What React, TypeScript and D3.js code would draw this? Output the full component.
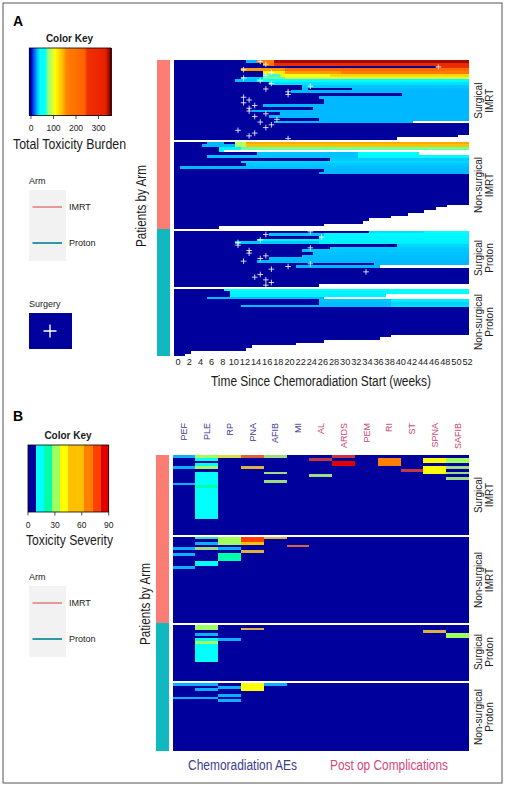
import React from "react";
import * as d3 from "d3";

const SANS = "'Liberation Sans',Arial,sans-serif";

const weekTicks = [0,2,4,6,8,10,12,14,16,18,20,22,24,26,28,30,32,34,36,38,40,42,44,46,48,50,52];
const keyATicks = [0,100,200,300];
const keyBTicks = [0,30,60,90];
const aeNames = ["PEF","PLE","RP","PNA","AFIB","MI","AL","ARDS","PEM","RI","ST","SPNA","SAFIB"];
const aeKinds = ["c","c","c","c","c","c","p","p","p","p","p","p","p"];
const groupLabels = [["Surgical","IMRT"],["Non-surgical","IMRT"],["Surgical","Proton"],["Non-surgical","Proton"]];
const groupRowCounts = [29,32,21,25];
const END = -1;

// Panel A rows: week, value, week, value... END means the patient's record stops.
const surgicalImrtRows: number[][] = [
  [0,0,13,26,15,175,18,345],
  [0,0,16,190,18,285],
  [0,0,47,262],
  [0,0,12,150,20,215],
  [0,0,16,115,20,150,30,175],
  [0,0,16,68,19,105,28,125],
  [0,0,12,30,16,72,20,96],
  [0,0,11,27,15,55],
  [0,0,17,34],
  [0,0,23,29],
  [0,0,23,27,24,0,32,27],
  [0,0,21,26],
  [0,0,41,26],
  [0,0,26,26],
  [0,0,27,26],
  [0,0,27,26],
  [0,0,16,26],
  [0,0,25,26],
  [0,0,14,26],
  [0,0,19,26],
  [0,0,17,26],
  [0,0,26,26],
  [0,0,18,26,43,END],
  [0,0],
  [0,0],
  [0,0],
  [0,0],
  [0,0,51,END],
  [0,0,40,END],
];
const nonSurgicalImrtRows: number[][] = [
  [0,0,6,26,9,0,11,85,13,145],
  [0,0,5,26,11,85,13,135],
  [0,0,8,38,12,72],
  [0,0,8,40,9,END],
  [0,0,15,28,33,42,44,END],
  [0,0,6,28,33,39],
  [0,0,28,30],
  [0,0,12,32],
  [0,0,13,29],
  [0,0,1,27],
  [0,0,27,26],
  [0,0,26,26],
  [0,0],[0,0],[0,0],[0,0],[0,0],[0,0],[0,0],[0,0],[0,0],[0,0],
  [0,0],
  [0,0,49,END],
  [0,0,47,END],
  [0,0,45,END],
  [0,0,42,END],
  [0,0,39,END],
  [0,0,35,END],
  [0,0,34,END],
  [0,0,27,END],
  [0,0,8,END],
];
const surgicalProtonRows: number[][] = [
  [0,0,35,34,45,42],
  [0,0,17,28,27,39],
  [0,0,26,38],
  [0,0,15,38],
  [0,0,11,29,26,37],
  [0,0,40,32],
  [0,0,28,30],
  [0,0,23,29],
  [0,0,25,28],
  [0,0,23,27],
  [0,0,17,27],
  [0,0,15,26],
  [0,0,36,26],
  [0,0,22,26,37,END],
  [0,0],[0,0],[0,0],[0,0],[0,0],[0,0],
  [0,0,26,END],
];
const nonSurgicalProtonRows: number[][] = [
  [0,0,9,42,38,55],
  [0,0,10,38,38,44],
  [0,0,10,37,38,END],
  [0,0,6,27,27,END],
  [0,0,26,29,39,37],
  [0,0,26,27,39,32],
  [0,0,12,27,39,34],
  [0,0],[0,0],[0,0],[0,0],[0,0],[0,0],[0,0],[0,0],[0,0],[0,0],
  [0,0,39,END],
  [0,0,37,END],
  [0,0,27,END],
  [0,0,22,END],
  [0,0,14,END],
  [0,0,13,END],
  [0,0,3,END],
  [0,0,2,END],
];
const timelineRows = [surgicalImrtRows, nonSurgicalImrtRows, surgicalProtonRows, nonSurgicalProtonRows];

// Week of surgery per row, surgical groups only
const surgeryWeeksImrt = [15,16,47,12,17,16,12,15,17,24,16,20,20,12,13,12,14,13,13,16,14,18,15,17,16,11,14,13,20];
const surgeryWeeksProton = [24,16,26,15,11,11,24,13,13,16,15,12,24,20,17,34,15,14,16,17,16];

// Panel B cells: row, AE column, severity
const aeSurgicalImrt: number[][] = [
  [0,0,14],[0,1,32],[0,2,42],[0,3,78],[0,4,32],[0,7,85],
  [1,1,15],[1,6,85],[1,9,66],[1,11,42],[1,12,35],
  [2,7,85],[2,9,66],[2,11,42],[2,12,35],
  [3,1,15],[3,7,85],[3,9,66],
  [4,0,14],[4,1,30],[4,3,48],[4,11,42],[4,12,30],
  [5,10,85],[5,11,42],
  [6,1,15],[6,4,32],[6,11,42],[6,12,30],
  [7,1,15],[7,6,32],
  [8,1,15],[8,12,30],
  [9,1,15],[9,4,32],
  [10,0,14],[10,1,15],
  [11,1,22],
  [12,1,15],[13,1,15],[14,1,15],[15,1,15],[16,1,15],[17,1,15],[18,1,15],[19,1,15],[20,1,15],[21,1,15],[22,1,15],
];
const aeNonSurgicalImrt: number[][] = [
  [0,1,20],[0,2,34],[0,3,78],[0,4,46],
  [1,2,34],[1,3,78],
  [2,1,15],[2,2,34],[2,3,46],
  [3,5,72],
  [4,0,14],[4,1,32],[4,2,14],
  [5,3,46],
  [6,0,14],[6,2,22],
  [7,2,22],
  [8,2,22],
  [9,1,15],
  [10,1,15],
  [11,0,14],
];
const aeSurgicalProton: number[][] = [
  [0,1,30],[1,1,30],[1,3,46],
  [2,11,46],
  [3,1,15],[3,12,35],
  [4,12,35],
  [5,1,15],[5,2,15],
  [6,1,30],
  [7,1,15],[8,1,15],[9,1,15],[10,1,15],[11,1,15],[12,1,15],[13,1,15],
];
const aeNonSurgicalProton: number[][] = [
  [0,0,14],[0,1,14],[0,3,42],[0,4,14],
  [1,2,14],[1,3,42],
  [2,1,15],[2,3,42],
  [4,2,14],
  [5,0,14],[5,1,14],
  [6,2,14],
];
const aeCells = [aeSurgicalImrt, aeNonSurgicalImrt, aeSurgicalProton, aeNonSurgicalProton];

const burdenStops = [0,12,26,40,62,75,95,107,137,159,240,248,330,355];
const burdenColors = ["#00009c","#0050ff","#00b8ff","#00ffff","#00ffff","#90ff80","#d8ff40","#ffff00","#ffc000","#ff8000","#ff6000","#f03000","#e82000","#700000"];
const severityBins = ["#00009c","#00ffff","#00ffa8","#a0ff60","#ffff00","#ffc000","#ffc000","#ff8000","#ff4000","#e00000"];

const burden = d3.scaleLinear<string>().domain(burdenStops).range(burdenColors).clamp(true);
const severity = d3.scaleQuantize<string>().domain([0,90]).range(severityBins);

const SALMON = "#fc7d74", TEAL = "#0fb9bf", NAVY = "#00009c";
const INK = "#1a1a1a";

const yA = [[60,140],[141.5,229],[230.5,286.5],[288.5,356]];
const yB = [[455,535],[536.5,623],[625,681],[683,751]];
const bands = (ranges: number[][]) => groupRowCounts.map((n,i) =>
  d3.scaleBand<number>().domain(d3.range(n)).range(ranges[i] as [number,number]));
const bandsA = bands(yA), bandsB = bands(yB);

const x = d3.scaleLinear().domain([0,53]).range([174,469]);
const colX = d3.scaleBand<number>().domain(d3.range(aeNames.length)).range([172.7,469]);
const keyAx = d3.scaleLinear().domain([0,300]).range([31,98.5]);
const keyBx = d3.scaleLinear().domain([0,90]).range([28,108.7]);

// A one-row stripe in the reference looks washed out by its neighbours.
function cellColor(cells:number[][], row:number, col:number, val:number) {
  const c = severity(val);
  const touching = cells.some(([r,k])=>k===col && Math.abs(r-row)===1);
  if (touching) return c;
  return c==="#00ffff" ? d3.interpolateRgb(c,"#1060ff")(0.5) : d3.interpolateRgb(c,"#9a9ac0")(0.35);
}

function NarrowText(p:{x:number,y:number,len:number,fill?:string,rotate?:boolean,text:string}) {
  return <text transform={`translate(${p.x},${p.y})${p.rotate?" rotate(-90)":""}`} textAnchor="start" fontFamily={SANS} fontSize={14}
    fill={p.fill||INK} textLength={p.len} lengthAdjust="spacingAndGlyphs">{p.text}</text>;
}

function Legend({y}:{y:number}) {
  return <g fontFamily={SANS} fontSize={9} fill={INK}>
    <text x={29} y={y}>Arm</text>
    <rect x={29} y={y+6} width={37} height={71} fill="#f2f2f2"/>
    <line x1={32.5} x2={62} y1={y+23} y2={y+23} stroke="#e59a9a" strokeWidth={2}/>
    <line x1={32.5} x2={62} y1={y+59} y2={y+59} stroke="#2f97a6" strokeWidth={2}/>
    <text x={69} y={y+26}>IMRT</text>
    <text x={69} y={y+62}>Proton</text>
  </g>;
}

function GroupLabels({centers}:{centers:number[]}) {
  return <g fontFamily={SANS} fontSize={10} fill={INK} textAnchor="middle">
    {groupLabels.map((l,i)=>l.map((t,j)=>
      <text key={i+"-"+j} transform={`translate(${482+j*10.5},${centers[i]}) rotate(-90)`}>{t}</text>))}
  </g>;
}

function ArmBar({x0,ys}:{x0:number,ys:[number,number,number]}) {
  return <g>
    <rect x={x0} y={ys[0]} width={13} height={ys[1]-ys[0]} fill={SALMON}/>
    <rect x={x0} y={ys[1]} width={13} height={ys[2]-ys[1]} fill={TEAL}/>
  </g>;
}

function Plus({cx,cy,r,w=1,o=0.9}:{cx:number,cy:number,r:number,w?:number,o?:number}) {
  return <path d={`M${cx-r},${cy}H${cx+r}M${cx},${cy-r}V${cy+r}`} stroke="#fff" strokeWidth={w} opacity={o} fill="none"/>;
}

export default function App() {
  const keyASteps = d3.range(-8,355.5,1);
  const plusSets: [number[],number][] = [[surgeryWeeksImrt,0],[surgeryWeeksProton,2]];
  return (
    <svg width={508} height={789} style={{position:"fixed",left:0,top:0,background:"#fff"}}>
      <defs>
        <filter id="soft" x="-2%" y="-2%" width="104%" height="104%">
          <feGaussianBlur stdDeviation="0.45"/>
        </filter>
      </defs>
      <rect x={3} y={3} width={499} height={780} fill="#fff" stroke="#555" strokeWidth={1}/>

      {/* Panel A */}
      <text x={13} y={26} fontFamily={SANS} fontWeight="bold" fontSize={14} fill="#000">A</text>
      <text x={69.5} y={42} textAnchor="middle" fontFamily={SANS} fontWeight="bold" fontSize={10} fill={INK}>Color Key</text>
      <g shapeRendering="crispEdges">
        {keyASteps.map(v=><rect key={v} x={keyAx(v)} y={48} width={1} height={67.5} fill={burden(Math.max(v,0))}/>)}
      </g>
      <rect x={29.3} y={48} width={81.4} height={67.5} fill="none" stroke="#000" strokeWidth={0.8}/>
      {keyATicks.map(t=><g key={t}>
        <line x1={keyAx(t)} x2={keyAx(t)} y1={115.5} y2={119} stroke="#222" strokeWidth={0.8}/>
        <text x={keyAx(t)} y={131} textAnchor="middle" fontFamily={SANS} fontSize={8.5} fill={INK}>{t}</text>
      </g>)}
      <NarrowText x={13} y={149} len={113} text="Total Toxicity Burden"/>
      <Legend y={184}/>
      <text x={29} y={307} fontFamily={SANS} fontSize={9} fill={INK}>Surgery</text>
      <rect x={29} y={313} width={43} height={36} fill={NAVY}/>
      <Plus cx={50} cy={331} r={6.5} w={1.4} o={1}/>
      <NarrowText x={145.5} y={247} len={82} rotate text="Patients by Arm"/>
      <ArmBar x0={157} ys={[60,229,356]}/>

      <g filter="url(#soft)" shapeRendering="crispEdges">
        {timelineRows.map((rows,g)=>rows.map((r,i)=>{
          const segs:React.ReactNode[] = [];
          for (let k=0;k<r.length;k+=2) {
            const v = r[k+1];
            if (v===END) break;
            const next = k+2<r.length ? r[k+2] : 53;
            segs.push(<rect key={k} x={x(r[k])} y={bandsA[g](i)} width={x(next)-x(r[k])} height={bandsA[g].bandwidth()+0.2} fill={burden(v)}/>);
          }
          return <g key={g+"-"+i}>{segs}</g>;
        }))}
      </g>
      {plusSets.map(([weeks,g])=>weeks.map((w,i)=>
        <Plus key={g+"p"+i} cx={x(w+0.5)} cy={bandsA[g](i)!+bandsA[g].bandwidth()/2} r={2.8} w={0.9}/>))}
      {weekTicks.map(w=><text key={w} x={x(w+0.5)+1.4} y={365} textAnchor="middle" fontFamily={SANS} fontSize={9.2} fill={INK}>{w}</text>)}
      <NarrowText x={211} y={386} len={220} text="Time Since Chemoradiation Start (weeks)"/>
      <GroupLabels centers={[100.7,185,258,322]}/>

      {/* Panel B */}
      <text x={13} y={421} fontFamily={SANS} fontWeight="bold" fontSize={14} fill="#000">B</text>
      <text x={68} y={439} textAnchor="middle" fontFamily={SANS} fontWeight="bold" fontSize={10} fill={INK}>Color Key</text>
      <g shapeRendering="crispEdges">
        {severityBins.map((c,i)=><rect key={i} x={keyBx(i*9)} y={445} width={keyBx(9)-keyBx(0)+0.5} height={67} fill={c}/>)}
      </g>
      <rect x={28} y={445} width={80.7} height={67} fill="none" stroke="#000" strokeWidth={0.8}/>
      {keyBTicks.map(t=><g key={t}>
        <line x1={keyBx(t)} x2={keyBx(t)} y1={512} y2={515.5} stroke="#222" strokeWidth={0.8}/>
        <text x={keyBx(t)} y={528} textAnchor="middle" fontFamily={SANS} fontSize={8.5} fill={INK}>{t}</text>
      </g>)}
      <NarrowText x={26} y={545} len={87} text="Toxicity Severity"/>
      <Legend y={580}/>
      <NarrowText x={150} y={645} len={82} rotate text="Patients by Arm"/>
      <ArmBar x0={156} ys={[455,623,751]}/>

      {aeNames.map((n,i)=><text key={n} transform={`translate(${colX(i)!+colX.bandwidth()/2+3.2},423) rotate(-90)`} textAnchor="end"
        fontFamily={SANS} fontSize={9} fill={aeKinds[i]==="c"?"#3c3c8c":"#c8456f"}>{n}</text>)}
      <g filter="url(#soft)" shapeRendering="crispEdges">
        {yB.map((r,g)=><rect key={g} x={172.7} y={r[0]} width={296.3} height={r[1]-r[0]} fill={NAVY}/>)}
        {aeCells.map((cells,g)=>cells.map(([row,col,val])=>
          <rect key={g+"-"+row+"-"+col} x={colX(col)} y={bandsB[g](row)} width={colX.bandwidth()} height={bandsB[g].bandwidth()+0.1} fill={cellColor(cells,row,col,val)}/>))}
      </g>
      <GroupLabels centers={[495,580,652,717]}/>
      <NarrowText x={188} y={770} len={109} fill="#3c3c8c" text="Chemoradiation AEs"/>
      <NarrowText x={330} y={770} len={118} fill="#d6457a" text="Post op Complications"/>
    </svg>
  );
}
